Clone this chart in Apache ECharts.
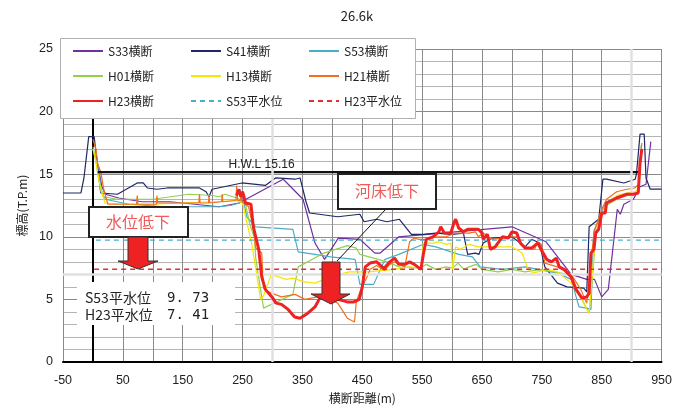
<!DOCTYPE html>
<html><head><meta charset="utf-8">
<script src="https://cdn.jsdelivr.net/npm/echarts@6/dist/echarts.min.js"></script>
<style>html,body{margin:0;padding:0;background:#fff}#c{width:675px;height:409px}</style>
</head><body><div id="c"></div>
<script>
const title = '26.6k';
const seriesNames = ['S33横断','S41横断','S53横断','H01横断','H13横断','H21横断','H23横断','S53平水位','H23平水位'];
const s33 = [[5,16.5],[15,14.0],[21,13.4],[43,13.1],[82,12.8],[129,12.8],[211,12.4],[244,12.7],[310,14.4],[318,14.6],[351,13.0],[371,9.5],[387,8.2],[410,9.9],[446,9.8],[471,8.7],[480,8.7],[511,10.0],[700,10.8],[757,9.6],[799,7.0],[825,6.6],[838,6.6],[850,5.2],[861,5.8],[876,12.2],[881,11.8],[887,12.6],[903,13.0],[914,14.0],[924,14.2],[932,17.6]];
const s41 = [[-50,13.5],[-20,13.5],[-15,14.7],[-7,18.0],[2,18.0],[7,16.0],[10,15.9],[13,13.5],[41,13.4],[74,14.3],[84,14.3],[91,13.9],[107,13.8],[124,13.9],[178,13.9],[189,13.6],[194,13.2],[199,13.8],[249,14.3],[288,14.1],[305,14.7],[338,14.6],[346,14.7],[356,12.8],[362,11.9],[409,11.6],[446,11.8],[453,11.2],[474,11.4],[491,11.2],[512,11.4],[532,10.2],[552,10.2],[573,10.3],[600,10.2],[619,10.3],[626,8.6],[639,8.7],[645,8.6],[652,9.5],[667,9.9],[700,10.0],[722,9.2],[733,9.8],[746,9.5],[755,7.6],[776,6.3],[792,6.0],[820,5.9],[825,5.6],[829,10.8],[845,11.4],[852,14.6],[858,14.6],[887,14.3],[906,14.6],[908,15.0],[914,18.2],[921,18.2],[924,14.7],[931,13.8],[950,13.8]];
const s53 = [[0,17.0],[10,15.5],[13,13.6],[21,13.0],[60,12.6],[120,12.4],[178,12.4],[211,12.4],[230,12.5],[252,12.8],[257,11.6],[272,10.8],[334,10.6],[343,8.8],[371,8.6],[397,8.4],[438,8.2],[446,6.2],[469,6.2],[488,8.2],[511,8.6],[552,9.4],[573,9.2],[611,8.6],[634,8.4],[647,7.6],[684,7.4],[722,7.6],[743,7.4],[776,7.1],[799,6.6],[812,4.4],[825,4.3],[832,4.2],[837,10.5],[845,11.3],[850,12.0],[858,12.8],[875,13.2],[892,13.4],[905,13.4],[912,13.6],[916,17.3]];
const h01 = [[0,17.2],[5,16.0],[10,14.5],[18,13.2],[40,13.0],[100,13.0],[130,13.2],[160,13.4],[200,13.3],[211,13.2],[221,13.4],[240,13.1],[255,12.6],[262,11.0],[270,9.9],[272,8.3],[285,4.3],[334,5.4],[343,7.6],[386,8.7],[425,9.3],[440,9.1],[446,8.6],[469,8.3],[491,8.0],[512,7.6],[548,7.5],[557,7.8],[573,7.4],[590,7.6],[601,7.5],[610,7.9],[620,7.4],[628,7.6],[640,7.8],[650,7.4],[677,7.2],[700,7.4],[722,7.2],[750,7.4],[771,7.2],[793,7.0],[799,6.8],[815,5.2],[829,3.9],[835,7.0],[840,10.2],[850,11.7],[858,12.5],[875,13.0],[892,13.3],[905,13.4],[912,13.7],[916,17.0]];
const h13 = [[0,17.0],[5,16.0],[12,14.0],[20,12.7],[60,12.6],[100,12.6],[150,12.7],[200,12.8],[240,12.9],[250,12.7],[258,11.0],[265,9.5],[272,7.5],[280,5.0],[285,5.3],[298,7.0],[310,6.8],[323,6.6],[333,6.7],[354,6.4],[371,6.3],[392,6.7],[412,7.0],[428,7.2],[459,7.2],[503,7.4],[529,7.6],[548,7.5],[552,9.5],[568,9.5],[578,9.6],[590,9.4],[598,9.5],[601,7.4],[606,9.2],[614,9.0],[628,9.4],[644,9.2],[684,9.2],[700,9.2],[717,8.7],[727,7.4],[735,7.1],[759,7.4],[776,7.2],[799,6.3],[815,5.2],[825,4.2],[829,3.9],[835,7.5],[840,10.3],[850,11.8],[858,12.6],[875,13.3],[892,13.5],[905,13.6],[912,13.8],[916,17.2]];
const h21 = [[0,17.8],[5,17.0],[8,15.8],[13,15.2],[18,13.8],[25,12.6],[73,12.6],[74,13.3],[75,12.6],[106,12.6],[107,13.3],[108,12.7],[177,12.7],[178,13.4],[179,12.7],[193,12.7],[194,13.3],[195,12.7],[215,12.8],[216,13.4],[217,12.8],[239,12.9],[240,14.1],[242,12.9],[246,12.9],[247,13.5],[249,12.8],[260,12.4],[268,10.7],[272,9.1],[282,8.7],[285,5.9],[293,5.6],[315,5.2],[338,5.4],[354,5.0],[376,5.2],[395,5.1],[409,4.7],[425,3.5],[437,3.2],[440,4.8],[446,5.6],[458,6.8],[463,7.4],[474,7.7],[487,7.3],[496,7.8],[504,8.0],[521,7.6],[529,9.6],[537,9.9],[545,9.8],[557,9.8],[573,10.0],[590,10.0],[606,10.3],[628,10.3],[639,10.4],[644,10.0],[652,10.3],[667,9.8],[684,9.9],[700,10.0],[708,10.0],[722,9.1],[738,9.0],[743,9.6],[749,9.4],[755,7.9],[776,7.6],[799,7.0],[815,5.8],[825,4.7],[832,8.0],[837,10.3],[845,11.5],[850,12.2],[858,13.0],[875,13.6],[892,13.8],[905,13.9],[912,14.2],[917,17.5]];
const h23 = [[240,13.3],[244,13.8],[247,13.2],[250,13.6],[255,12.7],[264,12.6],[268,10.8],[277,9.0],[282,6.8],[288,5.8],[299,5.2],[306,4.7],[315,4.6],[326,4.2],[337,3.6],[346,3.5],[359,3.9],[371,4.4],[379,5.1],[387,5.2],[395,5.1],[409,5.0],[425,4.8],[436,4.8],[445,5.0],[450,6.0],[455,7.6],[463,7.9],[474,8.0],[483,7.6],[487,7.5],[496,8.0],[504,8.3],[511,7.8],[521,7.8],[529,8.0],[537,7.8],[548,7.4],[552,8.6],[557,9.8],[568,10.0],[578,10.4],[581,10.8],[587,10.3],[590,10.4],[598,10.3],[603,11.1],[606,11.4],[611,10.7],[619,10.4],[626,10.6],[634,10.6],[644,10.6],[650,10.3],[652,9.8],[659,10.2],[664,9.0],[672,9.2],[684,10.0],[694,9.9],[700,10.4],[708,10.3],[714,9.5],[722,9.1],[733,9.1],[743,9.5],[751,8.8],[758,8.2],[766,8.0],[774,8.3],[779,7.6],[787,7.4],[799,6.8],[807,5.8],[817,5.1],[825,5.2],[829,5.5],[832,8.7],[837,9.0],[840,10.3],[845,10.6],[850,11.9],[856,11.9],[858,12.7],[875,13.1],[892,13.4],[903,13.4],[911,13.5],[914,15.9],[917,17.0]];
const s53Level = 9.73, s53Start = 5;
const h23Level = 7.41, h23Start = 2;
const levelEnd = 950;
const hwl = 15.16, hwlStart = 8, hwlEnd = 911, hwlLabelX = 280;
const xMin = -50, xMax = 950, xStep = 100;
const yMin = 0, yMax = 25, yStep = 5;

const colors = ['#7030a0','#1f2766','#4bacc6','#92d050','#f5e500','#f07020','#ee2222','#4bacc6','#e03030'];
const sets = [s33,s41,s53,h01,h13,h21,h23];
const font = "'Noto Sans CJK JP', 'Liberation Sans', sans-serif";

const series = sets.map((d,i)=>({
  name: seriesNames[i], type:'line', data:d, symbol:'none', animation:false,
  lineStyle:{color:colors[i], width: i===6?3:1.2}, itemStyle:{color:colors[i]}, z: i===6?5:3
}));
series.push({name:seriesNames[7], type:'line', symbol:'none', animation:false,
  data:[[s53Start,s53Level],[levelEnd,s53Level]], lineStyle:{color:colors[7],width:1.3,type:[5,4]}, itemStyle:{color:colors[7]}, z:4});
series.push({name:seriesNames[8], type:'line', symbol:'none', animation:false,
  data:[[h23Start,h23Level],[levelEnd,h23Level]], lineStyle:{color:colors[8],width:1.3,type:[5,4]}, itemStyle:{color:colors[8]}, z:4});
series.push({name:'HWL', type:'line', symbol:'none', animation:false,
  data:[[hwlStart,hwl],[hwlEnd,hwl]], lineStyle:{color:'#111',width:2.2}, z:4});
series.push({name:'ref', type:'line', data:[], silent:true, animation:false, z:1,
  markLine:{silent:true, symbol:'none', label:{show:false}, animation:false,
    lineStyle:{color:'#e0e0e0', width:2.5, type:'solid'},
    data:[{yAxis:7},{xAxis:300},{xAxis:900}]}});

const legendCol = (names, left) => ({
  data:names, left:left, top:45, orient:'vertical', padding:0, z:10,
  itemWidth:30, itemHeight:14, itemGap:13, itemStyle:{opacity:0},
  textStyle:{fontSize:12, color:'#222', fontFamily:font}
});

const chart = echarts.init(document.getElementById('c'), null, {renderer:'canvas'});
chart.setOption({
  backgroundColor:'#fff',
  animation:false,
  title:{text:title, left:352, textAlign:'center', top:5, textStyle:{fontSize:13, fontWeight:'normal', color:'#222', fontFamily:font}},
  grid:{left:63, right:7, top:49, bottom:47},
  legend:[
    legendCol([seriesNames[0],seriesNames[3],seriesNames[6]], 72),
    legendCol([seriesNames[1],seriesNames[4],seriesNames[7]], 190),
    legendCol([seriesNames[2],seriesNames[5],seriesNames[8]], 308)
  ],
  xAxis:{type:'value', min:xMin, max:xMax, interval:xStep,
    name:'横断距離(m)', nameLocation:'middle', nameGap:30, nameTextStyle:{fontSize:12,color:'#222',fontFamily:font},
    axisLine:{lineStyle:{color:'#000',width:2}}, axisTick:{show:false},
    axisLabel:{fontSize:12.5, color:'#222', fontFamily:"'Liberation Sans', sans-serif", margin:12},
    splitLine:{show:true, lineStyle:{color:'#8a8a8a', width:1}},
    minorTick:{show:false, splitNumber:2},
    minorSplitLine:{show:true, lineStyle:{color:'#8a8a8a', width:1}}},
  yAxis:{type:'value', min:yMin, max:yMax, interval:yStep,
    name:'標高(T.P.m)', nameLocation:'middle', nameGap:24, nameRotate:90, nameTextStyle:{fontSize:12,color:'#222',fontFamily:font},
    axisLine:{show:true, lineStyle:{color:'#000',width:2}}, axisTick:{show:false},
    axisLabel:{fontSize:12.5, color:'#222', fontFamily:"'Liberation Sans', sans-serif", margin:10},
    splitLine:{show:true, lineStyle:{color:'#8a8a8a', width:1}},
    minorTick:{show:false, splitNumber:5},
    minorSplitLine:{show:true, lineStyle:{color:'#b4b4b4', width:1}}},
  series: series
});

const p = chart.convertToPixel({gridIndex:0}, [hwlLabelX, hwl]);
const arrowFill = '#ee2222';
chart.setOption({graphic:[
  {type:'rect', shape:{x:60.5,y:38.5,width:355,height:80}, style:{fill:'#fff', stroke:'#b0b0b0', lineWidth:1}, z:8},
  {type:'text', left:p[0]-32, top:p[1]-14, style:{text:'H.W.L 15.16', fontSize:12, fill:'#222', fontFamily:"'Liberation Sans', sans-serif"}, z:20},
  {type:'rect', shape:{x:89,y:207,width:99,height:30}, style:{fill:'#fff', stroke:'#222', lineWidth:2}, z:20},
  {type:'text', x:138, y:222, style:{text:'水位低下', fontSize:16, fill:'#f05a5a', align:'center', verticalAlign:'middle', fontFamily:font}, z:21},
  {type:'polygon', shape:{points:[[128,237],[148,237],[148,261],[158,261],[138,269],[118,261],[128,261]]}, style:{fill:arrowFill, stroke:'#333', lineWidth:1}, z:20},
  {type:'line', shape:{x1:386,y1:209,x2:337,y2:261}, style:{stroke:'#111', lineWidth:1}, z:19},
  {type:'rect', shape:{x:338,y:174,width:98,height:35}, style:{fill:'#fff', stroke:'#222', lineWidth:2}, z:20},
  {type:'text', x:387, y:191, style:{text:'河床低下', fontSize:16, fill:'#f05a5a', align:'center', verticalAlign:'middle', fontFamily:font}, z:21},
  {type:'polygon', shape:{points:[[322,262],[340,262],[340,294],[350,294],[331,304],[311,294],[322,294]]}, style:{fill:arrowFill, stroke:'#333', lineWidth:1}, z:20},
  {type:'rect', shape:{x:77,y:282,width:158,height:43}, style:{fill:'#fff', stroke:null}, z:20},
  {type:'text', x:85, y:298, style:{text:'S53平水位', fontSize:14, fill:'#222', verticalAlign:'middle', fontFamily:font}, z:21},
  {type:'text', x:167, y:298, style:{text:'9. 73', fontSize:14, fill:'#222', verticalAlign:'middle', fontFamily:"'DejaVu Sans Mono', monospace"}, z:21},
  {type:'text', x:85, y:315, style:{text:'H23平水位', fontSize:14, fill:'#222', verticalAlign:'middle', fontFamily:font}, z:21},
  {type:'text', x:167, y:315, style:{text:'7. 41', fontSize:14, fill:'#222', verticalAlign:'middle', fontFamily:"'DejaVu Sans Mono', monospace"}, z:21}
]});
</script></body></html>
